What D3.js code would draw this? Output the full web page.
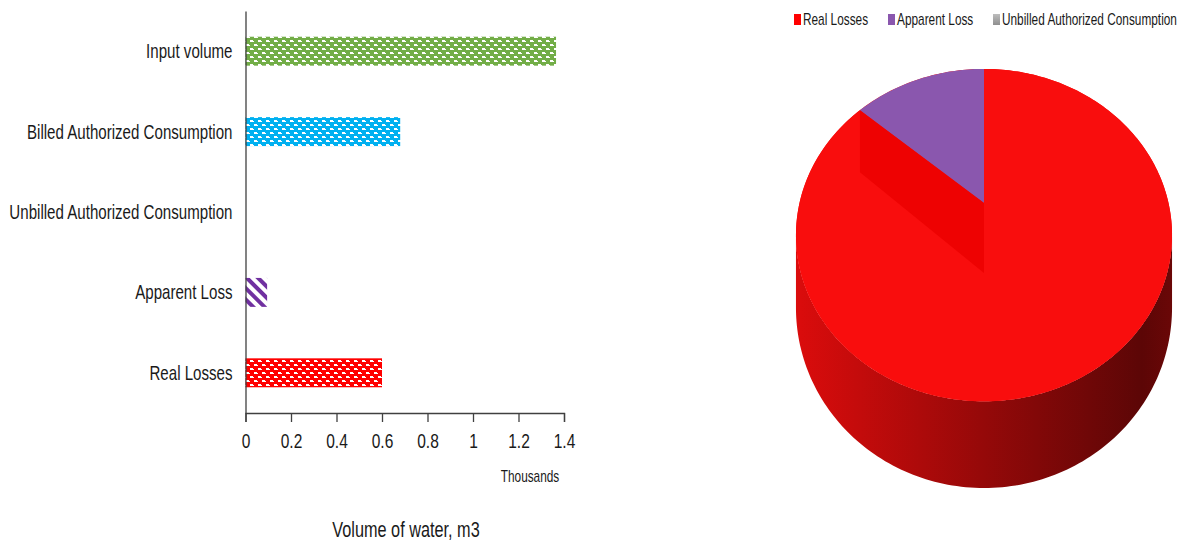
<!DOCTYPE html>
<html>
<head>
<meta charset="utf-8">
<script src="https://cdn.jsdelivr.net/npm/d3@7"></script>
<style>
  body { margin: 0; background: #fff; }
  svg { display: block; }
  text { font-family: "Liberation Sans", Arial, sans-serif; fill: #1a1a1a; }
</style>
</head>
<body>
<svg id="chart" width="1184" height="546"></svg>
<script>
// water balance components, in thousands of m3
const categories = ["Input volume", "Billed Authorized Consumption", "Unbilled Authorized Consumption", "Apparent Loss", "Real Losses"];
const volumes = [1.365, 0.68, 0, 0.095, 0.60];
const xTicks = [0, 0.2, 0.4, 0.6, 0.8, 1, 1.2, 1.4];

// pie shows the losses + unbilled part
const pieLabels = ["Real Losses", "Apparent Loss", "Unbilled Authorized Consumption"];
const pieValues = [600, 95, 0];

const barColors = ["#72ad47", "#00b0f0", "#a5a5a5", "#7030a0", "#ff0000"];
const pieColors = ["#f90d0d", "#8a57ae", "#a5a5a5"];

// no narrow font installed, so squeeze text horizontally
const NARROW = 0.74;

const svg = d3.select("#chart");
const defs = svg.append("defs");

// patterned fills like the excel bars
barColors.forEach((c, i) => {
  if (i === 3) {
    // wide downward diagonal
    let p = defs.append("pattern").attr("id", "pat" + i)
      .attr("patternUnits", "userSpaceOnUse").attr("width", 8).attr("height", 8)
      .attr("patternTransform", "rotate(-45)");
    p.append("rect").attr("width", 8).attr("height", 8).attr("fill", "#fff");
    p.append("rect").attr("width", 4).attr("height", 8).attr("fill", c);
  } else {
    let p = defs.append("pattern").attr("id", "pat" + i)
      .attr("patternUnits", "userSpaceOnUse").attr("width", 8).attr("height", 8)
      .attr("x", 245).attr("y", 0);
    p.append("rect").attr("width", 8).attr("height", 8).attr("fill", c);
    [[5, 0], [1, 4]].forEach(d => {
      p.append("rect").attr("x", d[0]).attr("y", d[1]).attr("width", 3).attr("height", 2).attr("fill", "#fff");
    });
    [[0, 1], [4, 5]].forEach(d => {
      p.append("rect").attr("x", d[0]).attr("y", d[1]).attr("width", 1).attr("height", 1).attr("fill", "#fff");
    });
  }
});

// helper: text squeezed around its own anchor point
function narrowText(sel, tx, ty, size, str, anchor) {
  return sel.append("text")
    .attr("transform", `translate(${tx},${ty}) scale(${NARROW},1)`)
    .attr("text-anchor", anchor || "start")
    .attr("font-size", size).text(str);
}

// ---------- bar chart ----------
const x = d3.scaleLinear().domain([0, 1.4]).range([245.5, 564]);
const y = d3.scaleBand().domain(categories).range([11, 413]).paddingInner(0.64).paddingOuter(0.32);

svg.append("g").selectAll("rect").data(categories).join("rect")
  .attr("x", x(0))
  .attr("y", d => y(d))
  .attr("height", y.bandwidth())
  .attr("width", (d, i) => x(volumes[i]) - x(0))
  .attr("fill", (d, i) => "url(#pat" + i + ")");

const xAxis = svg.append("g").attr("transform", "translate(0,413)")
  .call(d3.axisBottom(x).tickValues(xTicks).tickFormat(d3.format("~g")).tickSize(9));
xAxis.select(".domain").attr("stroke", "#404040").attr("stroke-width", 1.3);
xAxis.selectAll(".tick line").attr("stroke", "#404040").attr("stroke-width", 1.3);
xAxis.selectAll(".tick text")
  .attr("y", null).attr("dy", null)
  .attr("transform", `translate(0,35) scale(${NARROW},1)`)
  .attr("font-size", 21).attr("font-family", null).style("fill", "#1a1a1a");

const yAxis = svg.append("g").attr("transform", "translate(245.5,0)")
  .call(d3.axisLeft(y).tickSize(0));
yAxis.select(".domain").attr("stroke", "#404040").attr("stroke-width", 1.3);
yAxis.selectAll(".tick text")
  .attr("x", null).attr("dy", null)
  .attr("transform", `translate(-13,7) scale(${NARROW},1)`)
  .attr("font-size", 20.4).attr("font-family", null).style("fill", "#1a1a1a");

narrowText(svg, 530, 482, 16, "Thousands", "middle");
narrowText(svg, 406, 537, 22, "Volume of water, m3", "middle");

// ---------- 3d pie ----------
const cx = 984, cy = 203, R = 184.5, RK = 160, D = 5.18 * R, H = 70;
function proj(a, level) {
  const s = D / (D + R * Math.cos(a));
  return [cx + R * Math.sin(a) * s, cy - RK * Math.cos(a) * s + level * H * s];
}
function rim(a0, a1, level) {
  const n = Math.max(2, Math.ceil(Math.abs(a1 - a0) / 0.02));
  return d3.range(n + 1).map(k => proj(a0 + (a1 - a0) * k / n, level));
}
const line = d3.line();

const grad = defs.append("linearGradient").attr("id", "side")
  .attr("gradientUnits", "userSpaceOnUse").attr("x1", 796).attr("x2", 1172).attr("y1", 0).attr("y2", 0);
grad.append("stop").attr("offset", 0).attr("stop-color", "#db0c0c");
grad.append("stop").attr("offset", 0.5).attr("stop-color", "#950909");
grad.append("stop").attr("offset", 0.92).attr("stop-color", "#5c0606");
grad.append("stop").attr("offset", 1).attr("stop-color", "#6a0707");

// side wall (front half)
const a1 = Math.acos(-1 / 5.18), a2 = 2 * Math.PI - a1;
const sidePts = rim(a1, a2, 0).concat(rim(a2, a1, 1));
svg.append("path").attr("d", line(sidePts) + "Z").attr("fill", "url(#side)");

const arcs = d3.pie().sort(null).value(d => d)(pieValues);

// top face
svg.append("path").attr("d", line(rim(0, 2 * Math.PI, 0)) + "Z").attr("fill", pieColors[0]);

arcs.forEach((a, i) => {
  if (a.value <= 0) return;
  const pts = [[cx, cy]].concat(rim(a.startAngle, a.endAngle, 0));
  svg.append("path").attr("d", line(pts) + "Z").attr("fill", pieColors[i]);
});

// radial face of the big slice where it meets the next one
const e = arcs[0].endAngle;
const face = [[cx, cy], proj(e, 0), proj(e, 1), [cx, cy + H]];
svg.append("path").attr("d", line(face) + "Z").attr("fill", "#ee0202");

// legend
const lg = defs.append("linearGradient").attr("id", "grey").attr("x1", 0).attr("x2", 0).attr("y1", 0).attr("y2", 1);
lg.append("stop").attr("offset", 0).attr("stop-color", "#bdbdbd");
lg.append("stop").attr("offset", 1).attr("stop-color", "#8f8f8f");
const legX = [794, 888, 993];
pieLabels.forEach((t, i) => {
  svg.append("rect").attr("x", legX[i]).attr("y", 14).attr("width", 7).attr("height", 11)
    .attr("fill", i === 2 ? "url(#grey)" : (i === 0 ? "#ff0000" : pieColors[i]));
  narrowText(svg, legX[i] + 9, 25, 16, t);
});
</script>
</body>
</html>
